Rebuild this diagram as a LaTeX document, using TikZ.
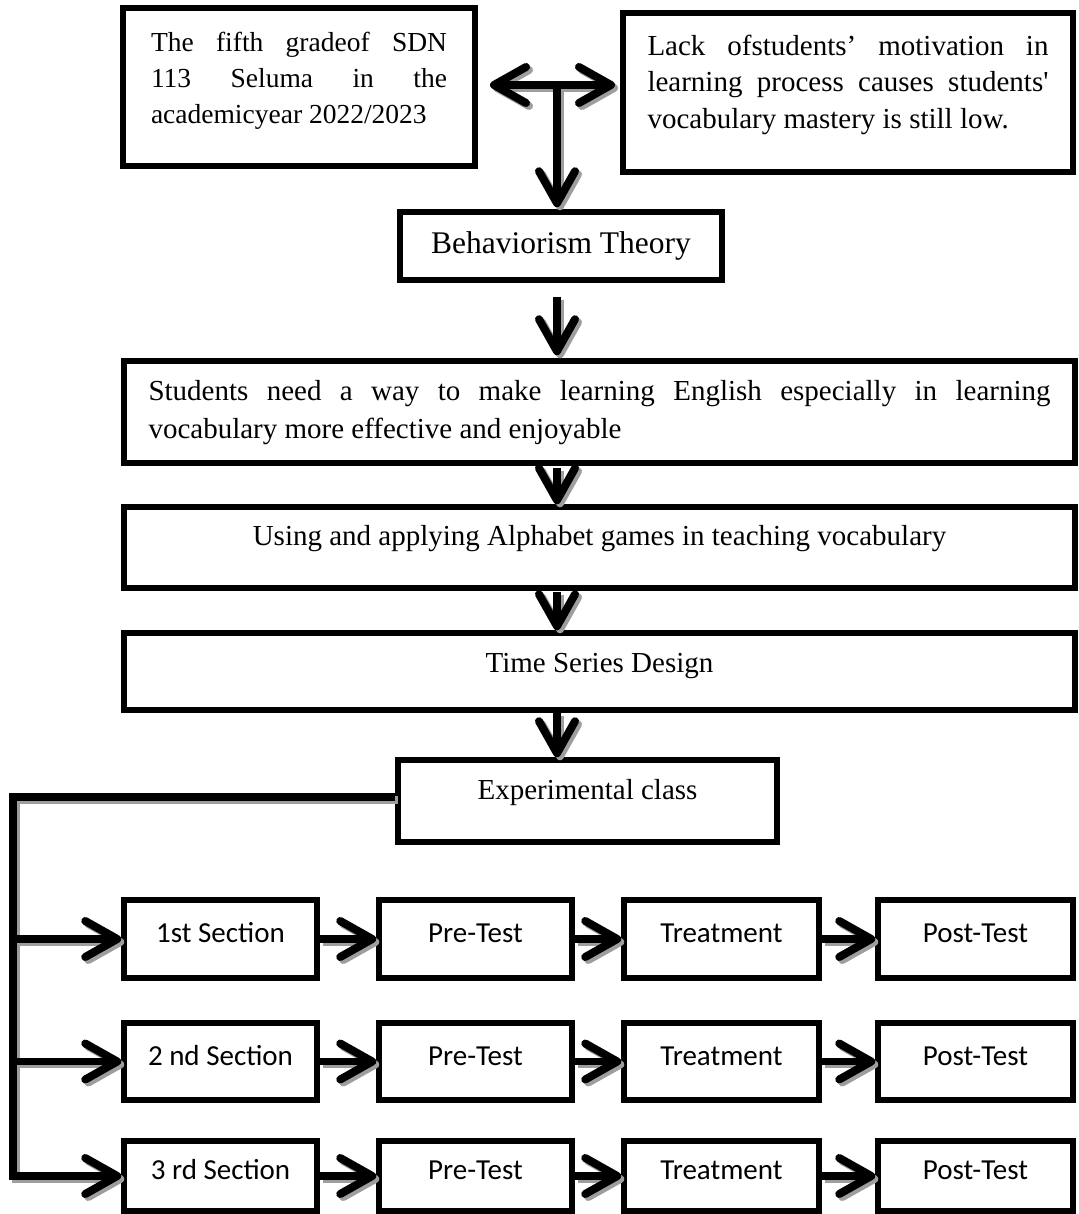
\documentclass[tikz,border=0pt]{standalone}
\usepackage{fontspec}
\setmainfont{Liberation Serif}[Ligatures=TeXOff]
\newfontfamily\calib{Carlito}
\usetikzlibrary{arrows.meta}
\tikzset{
  box/.style={draw, line width=5.5pt, inner sep=0pt, rectangle},
  serif/.style={font=\fontsize{29}{36}\selectfont},
  cal/.style={font=\calib\fontsize{29}{35}\selectfont, text height=19pt, text depth=12pt},
  conn/.style={line width=7.5pt, >={Straight Barb[length=32pt,width=36pt,line width=8pt,round]},
    postaction={draw, arrows=-, shorten >=5pt}},
  mainc/.style={conn, draw=black},
  shadc/.style={conn, draw=black!38, transform canvas={shift={(3pt,-3pt)}}},
  cola/.style={minimum width=193pt},
  colb/.style={minimum width=195pt},
}
\newcommand\myconns[1]{%
  \draw[#1,->] (dm) -- (dl);
  \draw[#1,->] (dm) -- (dr);
  \draw[#1,->,shorten >=2pt] (dm) -- (dm |- beh.north);
  \draw[#1,->,shorten <=14pt,shorten >=3pt] (beh.south -| ax) -- (stu.north -| ax);
  \draw[#1,->,shorten <=2pt] (stu.south -| ax) -- (alp.north -| ax);
  \draw[#1,->,shorten <=1pt] (alp.south -| ax) -- (tsd.north -| ax);
  \draw[#1,->] (tsd.south -| ax) -- (exp.north -| ax);
  \draw[#1,->] (c0 -| exp.west) -- (c0) -- (c3) -- (s3.west);
  \draw[#1,->] (s1.west -| c0) -- (s1.west);
  \draw[#1,->] (s2.west -| c0) -- (s2.west);
  \foreach \x in {1,2,3}{
    \draw[#1,->] (s\x.east) -- (p\x.west);
    \draw[#1,->] (p\x.east) -- (t\x.west);
    \draw[#1,->] (t\x.east) -- (q\x.west);
  }
}
\begin{document}
\begin{tikzpicture}[x=1pt,y=-1pt]
\useasboundingbox (0,0) rectangle (1078,1214);
% top boxes
\node[box, minimum width=352pt, minimum height=158pt] (tl) at (299,87)
  {\parbox[c][122pt][t]{296pt}{\fontsize{27.5}{36}\selectfont\strut\makebox[\linewidth][s]{The fifth gradeof SDN}\\
   \makebox[\linewidth][s]{113 Seluma in the}\\
   academicyear 2022/2023}};
\node[box, minimum width=450pt, minimum height=159pt] (tr) at (848,92.5)
  {\parbox[c][126pt][t]{401pt}{\fontsize{29}{36.5}\selectfont\strut\makebox[\linewidth][s]{Lack ofstudents’ motivation in}\\
   \makebox[\linewidth][s]{learning process causes students'}\\
   vocabulary mastery is still low.}};
\node[box, minimum width=322pt, minimum height=68pt, font=\fontsize{31.5}{36}\selectfont] (beh) at (561,246) {Behaviorism Theory};
\node[box, minimum width=951pt, minimum height=102pt] (stu) at (599.5,412)
  {\parbox[c][77pt][t]{902pt}{\fontsize{29}{38}\selectfont\strut\makebox[\linewidth][s]{Students need a way to make learning English especially in learning}\\
   vocabulary more effective and enjoyable}};
\node[box, serif, minimum width=951pt, minimum height=81pt, text height=20pt, text depth=25pt] (alp) at (599.5,547.5) {Using and applying Alphabet games in teaching vocabulary};
\node[box, serif, minimum width=951pt, minimum height=77pt, text height=20pt, text depth=19pt] (tsd) at (599.5,671.5) {Time Series Design};
\node[box, serif, minimum width=379pt, minimum height=82pt, text height=20pt, text depth=24pt] (exp) at (587.5,801) {Experimental class};
% rows
\node[box, cal, cola, minimum height=78pt] (s1) at (220.5,939) {1st Section};
\node[box, cal, cola, minimum height=78pt] (p1) at (475.5,939) {Pre-Test};
\node[box, cal, colb, minimum height=78pt] (t1) at (721.5,939) {Treatment};
\node[box, cal, colb, minimum height=78pt] (q1) at (975.5,939) {Post-Test};
\node[box, cal, cola, minimum height=77pt] (s2) at (220.5,1061.5) {2 nd Section};
\node[box, cal, cola, minimum height=77pt] (p2) at (475.5,1061.5) {Pre-Test};
\node[box, cal, colb, minimum height=77pt] (t2) at (721.5,1061.5) {Treatment};
\node[box, cal, colb, minimum height=77pt] (q2) at (975.5,1061.5) {Post-Test};
\node[box, cal, cola, minimum height=70pt] (s3) at (220.5,1176) {3 rd Section};
\node[box, cal, cola, minimum height=70pt] (p3) at (475.5,1176) {Pre-Test};
\node[box, cal, colb, minimum height=70pt] (t3) at (721.5,1176) {Treatment};
\node[box, cal, colb, minimum height=70pt] (q3) at (975.5,1176) {Post-Test};
% connector helper points
\coordinate (dl) at (490,85);
\coordinate (dr) at (615,85);
\coordinate (dm) at (557,85);
\coordinate (ax) at (557,0);
\coordinate (c0) at (13,797);
\coordinate (c3) at (13,1176);
\myconns{shadc}
\myconns{mainc}
\end{tikzpicture}
\end{document}
